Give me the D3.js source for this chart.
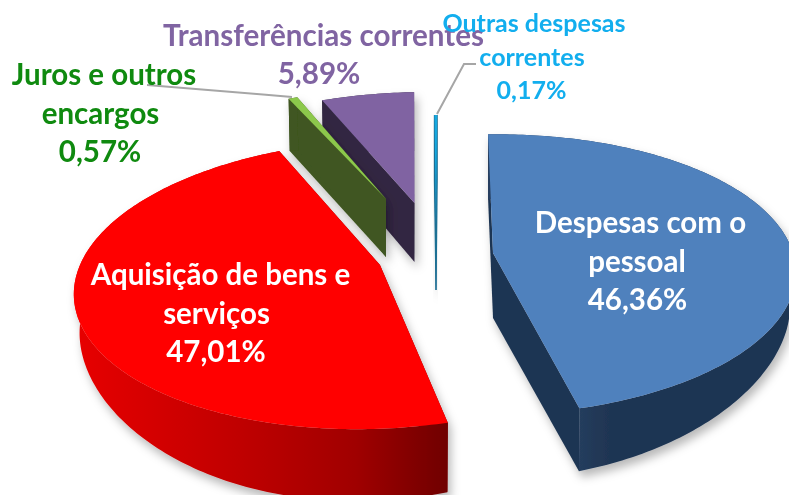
<!DOCTYPE html>
<html><head><meta charset="utf-8">
<script src="https://cdn.jsdelivr.net/npm/d3@7"></script>
<style>html,body{margin:0;padding:0;background:#fff;overflow:hidden}svg{display:block}text{font-family:Lato,"Open Sans",sans-serif;font-weight:700}</style>
</head><body><svg id="c" width="789" height="495"></svg>
<script>
// Data
const categories = ["Despesas com o pessoal","Aquisição de bens e serviços","Juros e outros encargos","Transferências correntes","Outras despesas correntes"];
const values = [46.36,47.01,0.57,5.89,0.17];
const valueLabels = ["46,36%","47,01%","0,57%","5,89%","0,17%"];
// Colours
const topColors = ["#4f81bd","#ff0000","#8cc84b","#8064a2","#17a9e0"];
const wallColors = ["#1f3552","#8a0000","#3f5620","#332843","#1f6f94"];
// Per-slice projection (exploded slices in perspective)
const centerX = [493,380,386,414.5,436];
const centerY = [253,265,199,203,225];
const radiusX = [300,300,290,290,290];
const radiusY = [137,142,127,128,127];
const perspective = [0.154,0.135,0.154,0.154,0.154];
const shear = [0.035,0.14,0.137,0.10,0.09];
const depth = [65,72,58,59,65];
const rimInset = 0.02;
const rimThin = 0.5;
const drawOrder = [3,4,2,0,1];
// Labels
const labelLines = [["Despesas com o","pessoal","46,36%"],["Aquisição de bens e","serviços","47,01%"],["Juros e outros","encargos","0,57%"],["Transferências correntes","5,89%"],["Outras despesas","correntes","0,17%"]];
const labelX = [[640.5,637,637.5],[220.5,216.5,216],[104,100.5,100],[323.5,319],[534,532,531.5]];
const labelY = [233,285,85,46,32];
const labelStep = [38.5,38.5,38.5,38,33.5];
const labelSize = [29.5,29.5,29.5,29.6,25];
const labelColors = ["#ffffff","#ffffff","#0f8a0f","#8064a2","#12aeee"];
const leaders = [[[147,85],[292,97]],[[476,64],[464,64],[437,114]]];

const svg = d3.select("#c");
const defs = svg.append("defs");
const shadow = defs.append("filter").attr("id","sh").attr("x","-20%").attr("y","-20%").attr("width","140%").attr("height","140%");
shadow.append("feDropShadow").attr("dx",3).attr("dy",6).attr("stdDeviation",5).attr("flood-color","#000").attr("flood-opacity",0.28);
const soft = defs.append("filter").attr("id","soft");
soft.append("feGaussianBlur").attr("stdDeviation",0.5);

function grad(id,x1,x2,stops){
  const g = defs.append("linearGradient").attr("id",id).attr("gradientUnits","userSpaceOnUse").attr("x1",x1).attr("x2",x2).attr("y1",0).attr("y2",0);
  stops.forEach(s=>g.append("stop").attr("offset",s[0]).attr("stop-color",s[1]));
}
grad("rim1",578,789,[[0,"#253d5e"],[0.15,"#1f3552"],[1,"#1f3552"]]);
grad("rim0",72,450,[[0,"#e80000"],[0.45,"#bf0000"],[0.75,"#a00000"],[1,"#6e0000"]]);

const pie = d3.pie().sort(null).startAngle(-2*Math.PI/180).endAngle(358*Math.PI/180);
const arcs = pie(values);
const line = d3.line();

function project(i,theta){
  const X = Math.sin(theta), Z = Math.cos(theta);
  const s = 1/(1+perspective[i]*Z);
  const dy = -radiusY[i]*Z*s;
  return [centerX[i]+radiusX[i]*X*s-shear[i]*dy, centerY[i]+dy];
}
function lower(i,theta){
  const X = Math.sin(theta), p = project(i,theta);
  return [p[0]-rimInset*radiusX[i]*X*Math.abs(X), p[1]+depth[i]*(1-rimThin*X*X)];
}

const marks = svg.append("g").attr("filter","url(#soft)");
drawOrder.forEach(i=>{
  const a = arcs[i];
  const n = Math.max(2,Math.ceil((a.endAngle-a.startAngle)*60));
  const angles = d3.range(n+1).map(k=>a.startAngle+(a.endAngle-a.startAngle)*k/n);
  const rim = angles.map(t=>project(i,t));
  const rimLow = angles.map(t=>lower(i,t));
  const apex = [centerX[i],centerY[i]];
  const apexLow = [centerX[i],centerY[i]+depth[i]];
  const g = marks.append("g").attr("filter","url(#sh)");
  // cut faces
  [[rim[0],rimLow[0]],[rim[n],rimLow[n]]].forEach(e=>{
    g.append("path").attr("d",line([apex,e[0],e[1],apexLow])+"Z").attr("fill",i===1?"#7a0000":wallColors[i])
      .attr("stroke",i===4?wallColors[i]:"none").attr("stroke-width",1.2);
  });
  // outer rim
  const rimFill = i===1?"url(#rim0)":i===0?"url(#rim1)":wallColors[i];
  g.append("path").attr("d",line(rim.concat(rimLow.slice().reverse()))+"Z").attr("fill",rimFill);
  // top surface
  g.append("path").attr("d",line([apex].concat(rim))+"Z").attr("fill",topColors[i]);
});

const lead = svg.append("g").attr("filter","url(#soft)");
leaders.forEach(l=>lead.append("path").attr("d",line(l)).attr("fill","none").attr("stroke","#a6a6a6").attr("stroke-width",2));

labelLines.forEach((lines,i)=>{
  const t = svg.append("text").attr("text-anchor","middle").attr("fill",labelColors[i]).attr("font-size",labelSize[i]);
  lines.forEach((s,k)=>t.append("tspan").attr("x",labelX[i][k]).attr("y",labelY[i]+k*labelStep[i]).text(s));
});
</script></body></html>
